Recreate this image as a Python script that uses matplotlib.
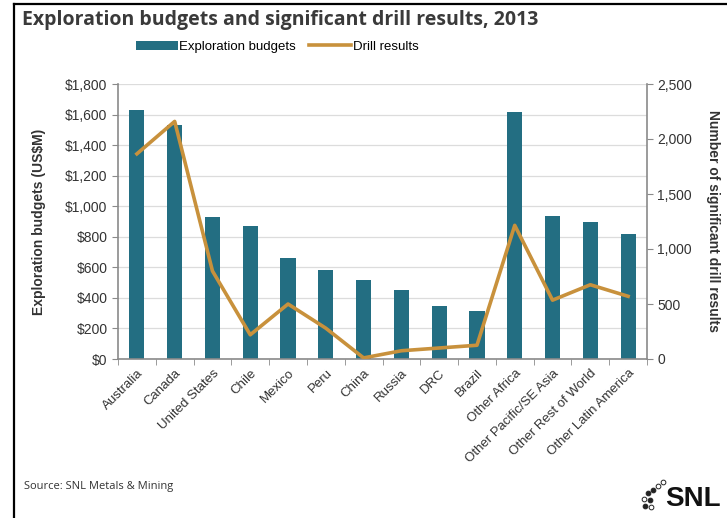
import matplotlib
matplotlib.use("Agg")
import matplotlib.pyplot as plt
from matplotlib.lines import Line2D
from matplotlib.ticker import FuncFormatter, MultipleLocator
import numpy as np

categories = ["Australia", "Canada", "United States", "Chile", "Mexico", "Peru", "China",
              "Russia", "DRC", "Brazil", "Other Africa", "Other Pacific/SE Asia",
              "Other Rest of World", "Other Latin America"]
budgets = [1630, 1530, 930, 870, 660, 580, 520, 450, 350, 315, 1615, 935, 895, 815]
drill_results = [1865, 2160, 800, 220, 500, 280, 10, 75, 100, 125, 1215, 535, 675, 570]

bar_color = "#236E82"
line_color = "#C8913C"
text_color = "#333333"
spine_color = "#8A8A8A"

W, H = 727, 518
fig = plt.figure(figsize=(W / 100, H / 100), dpi=100)
fig.patch.set_facecolor("white")

ax = fig.add_axes([118 / W, 1 - 359 / H, (647 - 118) / W, (359 - 84) / H])
x = np.arange(len(categories))
bars = ax.bar(x, budgets, width=0.4, color=bar_color, zorder=2, label="Exploration budgets")
ax.set_xlim(-0.5, len(categories) - 0.5)
ax.set_ylim(0, 1800)
ax.yaxis.set_major_locator(MultipleLocator(200))
ax.yaxis.set_major_formatter(FuncFormatter(lambda v, p: f"${v:,.0f}"))
ax.grid(axis="y", color="#DCDCDC", linewidth=0.9, zorder=0)
ax.set_axisbelow(True)

ax.set_xticks(x)
ax.set_xticklabels(categories, rotation=45, ha="right", rotation_mode="anchor",
                   fontsize=9.5, color=text_color, family="Liberation Sans")
ax.set_xticks(np.arange(-0.5, len(categories)), minor=True)
ax.tick_params(axis="x", which="major", length=0, pad=6)
ax.tick_params(axis="x", which="minor", length=4, color=spine_color, direction="out")
ax.tick_params(axis="y", length=4, color=spine_color, labelsize=10, labelcolor=text_color)
for lbl in ax.get_yticklabels():
    lbl.set_family("Liberation Sans")

for s in ["top", "right"]:
    ax.spines[s].set_visible(False)
for s in ["left", "bottom"]:
    ax.spines[s].set_color(spine_color)
    ax.spines[s].set_linewidth(1.2)

ax.set_ylabel("Exploration budgets (US$M)", fontsize=10, fontweight="bold",
              color=text_color, family="Liberation Sans", labelpad=14)

ax2 = ax.twinx()
line, = ax2.plot(x, drill_results, color=line_color, linewidth=2.6, zorder=3, label="Drill results")
ax2.set_ylim(0, 2500)
ax2.yaxis.set_major_locator(MultipleLocator(500))
ax2.yaxis.set_major_formatter(FuncFormatter(lambda v, p: f"{v:,.0f}"))
ax2.tick_params(axis="y", length=4, color=spine_color, labelsize=10, labelcolor=text_color)
for lbl in ax2.get_yticklabels():
    lbl.set_family("Liberation Sans")
for s in ["top", "left", "bottom"]:
    ax2.spines[s].set_visible(False)
ax2.spines["right"].set_color(spine_color)
ax2.spines["right"].set_linewidth(1.2)
ax2.set_ylabel("Number of significant drill results", fontsize=10, fontweight="bold",
               color=text_color, family="Liberation Sans", rotation=270, labelpad=20)

fig.legend([bars, line], ["Exploration budgets", "Drill results"], loc="center",
           bbox_to_anchor=(277 / W, 1 - 47 / H), ncol=2, frameon=False,
           prop={"family": "Liberation Sans", "size": 9.5}, handlelength=3.2,
           handletextpad=0.1, columnspacing=1.0)

fig.text(22 / W, 1 - 20 / H, "Exploration budgets and significant drill results, 2013",
         fontsize=14, fontweight="bold", color="#3a3a3a", family="Open Sans",
         ha="left", va="center")
fig.text(24 / W, 1 - 486 / H, "Source: SNL Metals & Mining", fontsize=8,
         color=text_color, family="Open Sans", ha="left", va="center")

# SNL logo
fig.text(721 / W, 1 - 499 / H, "SNL", fontsize=20, fontweight="bold", color="#111111",
         family="Liberation Sans", ha="right", va="center")
for (dx, dy, filled) in [(648, 493, True), (653, 490, True), (658, 486, False),
                          (663, 482, False), (644, 499, False), (650, 500, True),
                          (645, 506, True), (651, 507, False)]:
    fig.add_artist(Line2D([dx / W], [1 - dy / H], marker="o", markersize=3.4,
                          markerfacecolor="#222222" if filled else "white",
                          markeredgecolor="#222222", markeredgewidth=0.7,
                          linestyle="none", transform=fig.transFigure))

# frame lines
fig.add_artist(Line2D([14 / W, 14 / W], [0, 1 - 4 / H], color="black", linewidth=1.6,
                      transform=fig.transFigure))
fig.add_artist(Line2D([14 / W, 1], [1 - 4 / H, 1 - 4 / H], color="black", linewidth=1.6,
                      transform=fig.transFigure))

fig.savefig("out.png", dpi=100)
